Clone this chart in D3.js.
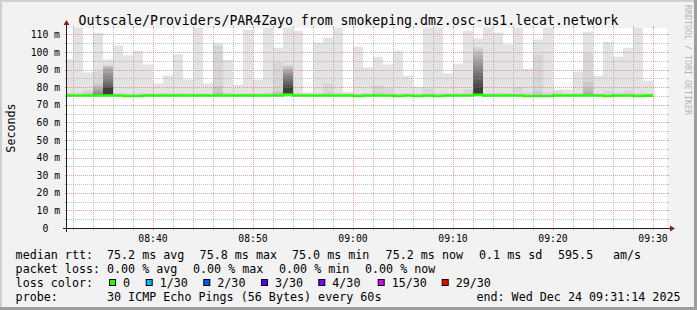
<!DOCTYPE html>
<html>
<head>
<meta charset="utf-8">
<script src="https://cdn.jsdelivr.net/npm/d3@7"></script>
<style>
body { margin: 0; background: #f2f2f2; }
svg text { font-family: "DejaVu Sans Mono", monospace; }
</style>
</head>
<body>
<div id="chart"></div>
<script>
// bar end times (60 s step)
var times = ["08:32","08:33","08:34","08:35","08:36","08:37","08:38","08:39","08:40","08:41",
  "08:42","08:43","08:44","08:45","08:46","08:47","08:48","08:49","08:50","08:51",
  "08:52","08:53","08:54","08:55","08:56","08:57","08:58","08:59","09:00","09:01",
  "09:02","09:03","09:04","09:05","09:06","09:07","09:08","09:09","09:10","09:11",
  "09:12","09:13","09:14","09:15","09:16","09:17","09:18","09:19","09:20","09:21",
  "09:22","09:23","09:24","09:25","09:26","09:27","09:28","09:29","09:30"];

// median rtt (ms)
var medianRtt = [75.3,75.3,75.3,75.3,75.3,75.3,75.0,75.0,75.3,75.3,
  75.3,75.3,75.3,75.3,75.3,75.3,75.3,75.3,75.3,75.3,
  75.3,75.3,75.8,75.3,75.3,75.3,75.3,75.3,75.3,75.0,
  75.3,75.3,75.3,75.0,75.3,75.0,75.3,75.0,75.3,75.3,
  75.3,75.7,75.3,75.3,75.3,75.3,75.0,75.0,75.0,75.3,
  75.3,75.3,75.3,75.3,75.0,75.3,75.3,75.0,75.2];

// pings above the median, highest first (ms); the other pings sit at the median
var smokeUpper = [
  [96.0,76.8],[118,76.9],[88.3,78.2,77],[110.9,88.8,82,80.5,79.5,78.5,77.5,76.5],
  [95.7,92.6,92,91.5,91,90,88,86.5,84.5,83,81.5,80.3,80,79.5],
  [103.7,76.8],[98.1,76.5],[100.7,76.8],[92.9,76.6],[82.1,76.5],
  [86.6,76.8],[98.6,76.6],[84.4,76.5],[118,76.8],[82.1,76.5],
  [104.8,103.5,80.5,77],[95.5,76.8],[81.3,76.5],[112.6,76.7],[84.3,76.5],
  [118,76.8],[102.4,94.3,78,76.8],
  [118,92.6,92,91,90,89,88,87,86,84.5,83,81.5,80.5,79.5],
  [112.1,76.8],[77.0,76.4],[105.3,76.8],[108.1,81.9,77],[118,76.8],[77.3,76.5],[103.0,76.5],
  [91.2,76.6],[97.3,81.0,77],[92.9,79.1],[100.7,76.9],[86.5,76.6],
  [80.1,76.5],[118,79.0],[118,76.8],[87.8,76.6],[93.3,76.8],
  [112.1,78.6],[107.7,102.6,101.5,100,98,96,94,92,90,88,86,84,82,80],
  [118,76.8],[111.0,76.8],[104.3,76.6],[118,80.1],[90.4,77],[107.1,98.6,77.5],[118,76.8],
  [78.7,77.5],[78.7,76.5],[88.8,76.6],[111.5,99.2,83,79.5,77.5],[86.5,76.6],
  [105.8,78.0],[97.3,76.8],[102.2,78.0],[118,76.8],[83.7,76.6]
];
var pingCount = 30;

var yTicks = [0,10,20,30,40,50,60,70,80,90,100,110];
var xTickLabels = ["08:40","08:50","09:00","09:10","09:20","09:30"];

var rttStats = ["75.2 ms avg","75.8 ms max","75.0 ms min","75.2 ms now","0.1 ms sd","595.5","am/s"];
var lossStats = ["0.00 % avg","0.00 % max","0.00 % min","0.00 % now"];
var lossLabels = ["0","1/30","2/30","3/30","4/30","15/30","29/30"];
var lossColors = ["#26ff00","#00b8ff","#0059ff","#5e00ff","#7e00ff","#dd00ff","#ff0000"];

var title = "Outscale/Providers/PAR4Zayo from smokeping.dmz.osc-us1.lecat.network";
var probeText = "30 ICMP Echo Pings (56 Bytes) every 60s";
var endText = "end: Wed Dec 24 09:31:14 2025";

var W = 697, H = 310;
var X0 = 67, X1 = 667, Y0 = 228, Y1 = 28;

var svg = d3.select("#chart").append("svg")
  .attr("width", W).attr("height", H);

// background + 3d frame
svg.append("rect").attr("width", W).attr("height", H).attr("fill", "#f2f2f2");
svg.append("rect").attr("x", 0).attr("y", 0).attr("width", W).attr("height", 2).attr("fill", "#cfcfcf");
svg.append("rect").attr("x", 0).attr("y", 0).attr("width", 2).attr("height", H).attr("fill", "#cfcfcf");
svg.append("rect").attr("x", 0).attr("y", H - 3).attr("width", W).attr("height", 3).attr("fill", "#9e9e9e");
svg.append("rect").attr("x", W - 3).attr("y", 0).attr("width", 3).attr("height", H).attr("fill", "#9e9e9e");

// canvas
svg.append("rect").attr("x", X0).attr("y", Y1).attr("width", X1 - X0).attr("height", Y0 - Y1).attr("fill", "#fff");

var parseHM = d3.timeParse("%H:%M");
var parseHMS = d3.timeParse("%H:%M:%S");

var x = d3.scaleTime()
  .domain([parseHMS("08:31:24"), parseHMS("09:31:24")])
  .range([X0, X1]);
var y = d3.scaleLinear().domain([0, 113.6]).range([Y0, Y1]);

var bars = times.map(function(t, i) {
  var end = parseHM(t);
  var pings = [];
  for (var k = 0; k < pingCount; k++) pings.push(medianRtt[i]);
  smokeUpper[i].forEach(function(v, j) { pings[pingCount - 1 - j] = v; });
  return {start: d3.timeMinute.offset(end, -1), end: end, pings: pings, median: medianRtt[i]};
});

svg.append("clipPath").attr("id", "plotclip")
  .append("rect").attr("x", X0).attr("y", Y1).attr("width", X1 - X0).attr("height", Y0 - Y1);

var plot = svg.append("g").attr("clip-path", "url(#plotclip)");

// smoke: layers from outermost (light) to innermost (dark)
var half = pingCount / 2;
for (var ibot = 1; ibot <= half; ibot++) {
  var itop = pingCount + 1 - ibot;
  var c = Math.floor(190 / half * (half - ibot)) + 50;
  var col = d3.rgb(c, c, c).formatHex();
  plot.append("g").selectAll("rect")
    .data(bars.filter(function(b) { return b.pings[itop - 1] > b.pings[ibot - 1]; }))
    .enter().append("rect")
    .attr("x", function(b) { return x(b.start); })
    .attr("width", function(b) { return x(b.end) - x(b.start); })
    .attr("y", function(b) { return y(b.pings[itop - 1]); })
    .attr("height", function(b) { return y(b.pings[ibot - 1]) - y(b.pings[itop - 1]); })
    .attr("fill", col);
}

// grid
var minorCol = "rgba(143,143,143,0.55)", majorCol = "rgba(222,79,79,0.55)";
var hMinor = d3.range(5, 114, 5).filter(function(v) { return v % 10 !== 0; });
var grid = svg.append("g").attr("stroke-width", 1).attr("fill", "none");
hMinor.forEach(function(v) {
  var yy = Math.round(y(v)) + 0.5;
  grid.append("line").attr("x1", X0).attr("x2", X1).attr("y1", yy).attr("y2", yy)
    .attr("stroke", minorCol).attr("stroke-dasharray", "1,1");
  grid.append("line").attr("x1", X0 - 2).attr("x2", X0).attr("y1", yy).attr("y2", yy).attr("stroke", minorCol);
  grid.append("line").attr("x1", X1).attr("x2", X1 + 2).attr("y1", yy).attr("y2", yy).attr("stroke", minorCol);
});
yTicks.slice(1).forEach(function(v) {
  var yy = Math.round(y(v)) + 0.5;
  grid.append("line").attr("x1", X0).attr("x2", X1).attr("y1", yy).attr("y2", yy)
    .attr("stroke", majorCol).attr("stroke-dasharray", "1,1");
  grid.append("line").attr("x1", X0 - 2).attr("x2", X0).attr("y1", yy).attr("y2", yy).attr("stroke", majorCol);
  grid.append("line").attr("x1", X1).attr("x2", X1 + 2).attr("y1", yy).attr("y2", yy).attr("stroke", majorCol);
});
var vMinor = d3.timeMinute.every(2).range(x.domain()[0], x.domain()[1]);
vMinor.forEach(function(t) {
  var major = t.getMinutes() % 10 === 0;
  var col = major ? majorCol : minorCol;
  var xx = Math.round(x(t)) + 0.5;
  grid.append("line").attr("x1", xx).attr("x2", xx).attr("y1", Y1).attr("y2", Y0)
    .attr("stroke", col).attr("stroke-dasharray", "1,1");
  grid.append("line").attr("x1", xx).attr("x2", xx).attr("y1", Y0).attr("y2", Y0 + 2).attr("stroke", col);
  grid.append("line").attr("x1", xx).attr("x2", xx).attr("y1", Y1 - 2).attr("y2", Y1).attr("stroke", col);
});

// median line
var medPts = [];
bars.forEach(function(b) {
  medPts.push([x(b.start), y(b.median)]);
  medPts.push([x(b.end), y(b.median)]);
});
plot.append("path").attr("d", d3.line()(medPts))
  .attr("fill", "none").attr("stroke", lossColors[0]).attr("stroke-width", 2.6);

// axes
svg.append("line").attr("x1", X0 - 4).attr("x2", X1 + 4).attr("y1", Y0 + 0.5).attr("y2", Y0 + 0.5)
  .attr("stroke", "#1f1f1f");
svg.append("line").attr("x1", X0 - 0.5).attr("x2", X0 - 0.5).attr("y1", Y0 + 4).attr("y2", Y1 - 4)
  .attr("stroke", "#1f1f1f");
svg.append("path").attr("d", "M" + (X1 + 3) + "," + (Y0 - 2.5) + "L" + (X1 + 3) + "," + (Y0 + 3.5) + "L" + (X1 + 8) + "," + (Y0 + 0.5) + "Z")
  .attr("fill", "#801f1f");
svg.append("path").attr("d", "M" + (X0 - 3.5) + "," + (Y1 - 3) + "L" + (X0 + 2.5) + "," + (Y1 - 3) + "L" + (X0 - 0.5) + "," + (Y1 - 8) + "Z")
  .attr("fill", "#801f1f");

// tick labels
var tickFs = 9.75, tickCw = 0.602 * tickFs;
svg.append("g").selectAll("text").data(yTicks).enter().append("text")
  .attr("x", function(d) { return d === 0 ? 60 - 2 * tickCw : 60; })
  .attr("y", function(d) { return y(d) + 3.6; })
  .attr("text-anchor", "end").attr("font-size", tickFs).attr("fill", "#000")
  .text(function(d) { return d === 0 ? "0" : d + " m"; });

svg.append("g").selectAll("text").data(xTickLabels).enter().append("text")
  .attr("x", function(d) { return x(parseHM(d)); })
  .attr("y", 242)
  .attr("text-anchor", "middle").attr("font-size", tickFs).attr("fill", "#000")
  .text(function(d) { return d; });

// title, y label, watermark
svg.append("text").attr("x", W / 2).attr("y", 24.5).attr("text-anchor", "middle")
  .attr("font-size", 13.2).attr("fill", "#000").text(title);
svg.append("text").attr("transform", "translate(15," + ((Y0 + Y1) / 2) + ")rotate(-90)")
  .attr("text-anchor", "middle").attr("font-size", 11.7).attr("fill", "#000").text("Seconds");
svg.append("text").attr("transform", "translate(685,5)rotate(90)")
  .attr("font-size", 8.3).attr("fill", "#b4b4b4").text("RRDTOOL / TOBI OETIKER");

// legend
var lfs = 11.7;
var legend = svg.append("g").attr("font-size", lfs).attr("fill", "#000");
function seg(xp, yp, s) { legend.append("text").attr("x", xp).attr("y", yp).text(s); }

var rttX = [107, 199.6, 292, 385.6, 479, 558, 613];
seg(15.6, 258.5, "median rtt:");
rttStats.forEach(function(s, i) { seg(rttX[i], 258.5, s); });

var lossX = [107, 193, 279, 365];
seg(15.6, 272.5, "packet loss:");
lossStats.forEach(function(s, i) { seg(lossX[i], 272.5, s); });

seg(15.6, 286.5, "loss color:");
var boxX = [109, 145.7, 203.3, 261, 318.3, 377.7, 441.7];
lossLabels.forEach(function(s, i) {
  legend.append("rect").attr("x", boxX[i] + 0.5).attr("y", 279.5).attr("width", 6).attr("height", 6)
    .attr("fill", lossColors[i]).attr("stroke", "#000").attr("stroke-width", 1);
  seg(boxX[i] + 14, 286.5, s);
});

seg(15.6, 300.5, "probe:");
seg(107, 300.5, probeText);
legend.append("text").attr("x", 680.5).attr("y", 300.5).attr("text-anchor", "end").text(endText);
</script>
</body>
</html>
